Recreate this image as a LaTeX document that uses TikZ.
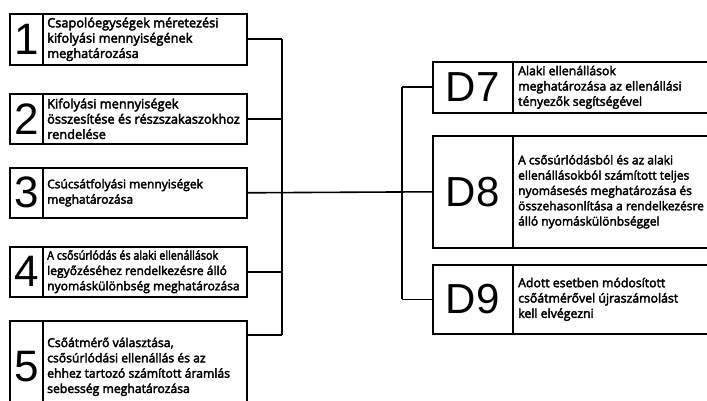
\documentclass[tikz,border=0pt]{standalone}
\usepackage{fontspec}
\usepackage{graphicx}
\setmainfont{Open Sans}[FakeBold=3]
\newfontfamily\numfont{Liberation Sans}
\usetikzlibrary{calc}
\tikzset{
  ln/.style={line width=1.6pt, black},
  numcell/.style={ln, draw, inner sep=0pt, anchor=north west, font=\numfont\fontsize{44}{44}\selectfont},
  cell/.style={ln, draw, inner sep=0pt, anchor=north west},
  txt/.style={inner sep=0pt, anchor=west, align=left},
}
\newcommand{\lbox}[6]{%
  \node[numcell, minimum width=33pt, minimum height=#3pt-#2pt] (n#1) at (9pt,-#2pt) {#4};
  \node[cell, minimum width=204pt, minimum height=#3pt-#2pt] (t#1) at (42pt,-#2pt) {};
  \node[txt, font=\fontsize{#6}{15.3}\selectfont] (l#1) at ($(t#1.west)+(5pt,0)$) {#5};
}
\newcommand{\rbox}[5]{%
  \node[numcell, minimum width=80pt, minimum height=#3pt-#2pt, font=\numfont\fontsize{42}{42}\selectfont] (d#1) at (432pt,-#2pt) {D#1};
  \node[cell, minimum width=210pt, minimum height=#3pt-#2pt] (e#1) at (512pt,-#2pt) {};
  \node[txt, font=\fontsize{#5}{15.3}\selectfont] (m#1) at ($(e#1.west)+(6pt,0)$) {#4};
}
\begin{document}
\begin{tikzpicture}[x=1pt,y=1pt]
\useasboundingbox (0,0) rectangle (707,-401);
\clip (0,0) rectangle (707,-401);
\lbox{1}{13}{64}{1}{Csapolóegységek méretezési\\kifolyási mennyiségének\\meghatározása}{12.8}
\lbox{2}{93}{143}{2}{Kifolyási mennyiségek\\összesítése és részszakaszokhoz\\rendelése}{12.8}
\lbox{3}{167}{217}{3}{Csúcsátfolyási mennyiségek\\meghatározása}{12.0}
\lbox{4}{246}{296}{4}{\scalebox{0.89}[1]{A csősúrlódás és alaki ellenállások}\\legyőzéséhez rendelkezésre álló\\nyomáskülönbség meghatározása}{12.1}
\lbox{5}{320}{412}{5}{Csőátmérő választása,\\csősúrlódási ellenállás és az\\ehhez tartozó számított áramlás\\sebesség meghatározása}{12.2}
\rbox{7}{61}{112}{Alaki ellenállások\\meghatározása az ellenállási\\tényezők segítségével}{12.3}
\rbox{8}{135}{247}{A csősúrlódásból és az alaki\\ellenállásokból számított teljes\\nyomásesés meghatározása és\\összehasonlítása a rendelkezésre\\álló nyomáskülönbséggel}{12.0}
\rbox{9}{264}{333}{Adott esetben módosított\\csőátmérővel újraszámolást\\kell elvégezni}{12.3}
\coordinate (vL) at (282,0);
\coordinate (vR) at (402,0);
\coordinate (c5) at ($(t5.north east)+(0,-15)$);
\draw[ln] (t1.east) -- (t1.east -| vL);
\draw[ln] (t2.east) -- (t2.east -| vL);
\draw[ln] (t4.east) -- (t4.east -| vL);
\draw[ln] (c5) -- (c5 -| vL);
\draw[ln] (t1.east -| vL) -- (c5 -| vL);
\draw[ln] (t3.east) -- (d8.west);
\draw[ln] (d7.west -| vR) -- (d9.west -| vR);
\draw[ln] (d7.west -| vR) -- (d7.west);
\draw[ln] (d9.west -| vR) -- (d9.west);
\end{tikzpicture}
\end{document}
